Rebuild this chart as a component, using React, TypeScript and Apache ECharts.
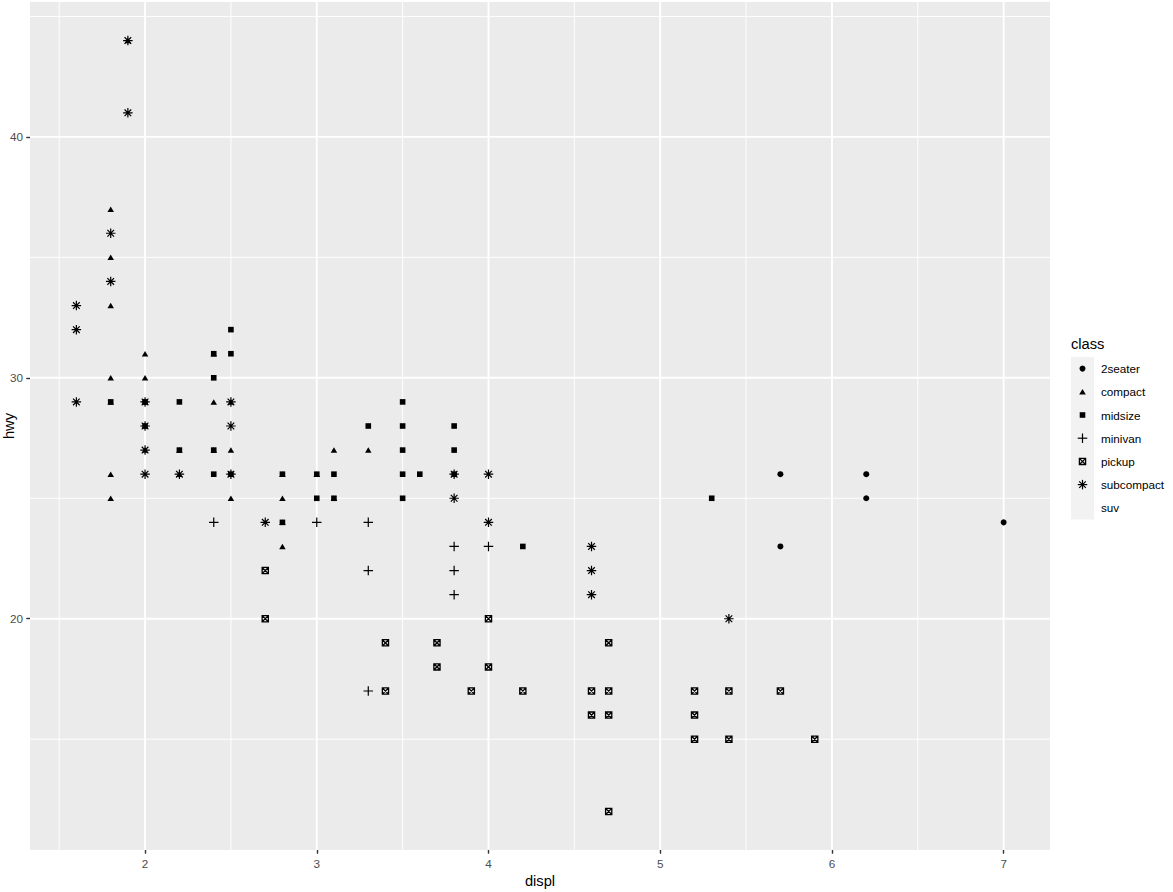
import React, { useEffect, useRef } from "react";
import * as echarts from "echarts";

// ---- data (mpg: displ vs hwy, shape = class; suv has no shape) ----
const classNames = ["2seater", "compact", "midsize", "minivan", "pickup", "subcompact", "suv"];

const twoSeater = [[5.7, 26], [5.7, 23], [6.2, 26], [6.2, 25], [7.0, 24]];
const compact = [
  [1.8, 25], [1.8, 26], [1.8, 29], [1.8, 30], [1.8, 33], [1.8, 35], [1.8, 37], [1.9, 44],
  [2.0, 27], [2.0, 28], [2.0, 29], [2.0, 30], [2.0, 31], [2.2, 26], [2.2, 27], [2.4, 27],
  [2.4, 29], [2.4, 31], [2.5, 25], [2.5, 27], [2.5, 29], [2.8, 23], [2.8, 24], [2.8, 25],
  [2.8, 26], [3.0, 26], [3.1, 25], [3.1, 27], [3.3, 27],
];
const midsize = [
  [1.8, 29], [2.0, 28], [2.0, 29], [2.2, 27], [2.2, 29], [2.4, 26], [2.4, 27], [2.4, 30],
  [2.4, 31], [2.5, 26], [2.5, 31], [2.5, 32], [2.8, 24], [2.8, 26], [3.0, 25], [3.0, 26],
  [3.1, 25], [3.1, 26], [3.3, 28], [3.5, 25], [3.5, 26], [3.5, 27], [3.5, 28], [3.5, 29],
  [3.6, 26], [3.8, 26], [3.8, 27], [3.8, 28], [4.2, 23], [5.3, 25],
];
const minivan = [
  [2.4, 24], [3.0, 24], [3.3, 17], [3.3, 22], [3.3, 24], [3.8, 21], [3.8, 22], [3.8, 23], [4.0, 23],
];
const pickup = [
  [2.7, 22], [2.7, 20], [3.4, 19], [3.4, 17], [3.7, 19], [3.7, 18], [3.9, 17], [4.0, 20],
  [4.0, 18], [4.2, 17], [4.6, 17], [4.6, 16], [4.7, 19], [4.7, 17], [4.7, 16], [4.7, 12],
  [5.2, 17], [5.2, 16], [5.2, 15], [5.4, 17], [5.4, 15], [5.7, 17], [5.9, 15],
];
const subcompact = [
  [1.6, 29], [1.6, 32], [1.6, 33], [1.8, 34], [1.8, 36], [1.9, 41], [1.9, 44], [2.0, 26],
  [2.0, 27], [2.0, 28], [2.0, 29], [2.2, 26], [2.5, 26], [2.5, 28], [2.5, 29], [2.7, 24],
  [3.8, 25], [3.8, 26], [4.0, 24], [4.0, 26], [4.6, 21], [4.6, 22], [4.6, 23], [5.4, 20],
];
const suv: number[][] = [];

const xTicks = [2, 3, 4, 5, 6, 7];
const xMinor = [1.5, 2.5, 3.5, 4.5, 5.5, 6.5];
const yTicks = [20, 30, 40];
const yMinor = [15, 25, 35, 45];
const xRange = [1.33, 7.27];
const yRange = [10.4, 45.6];

// ---- styling ----
const FONT = "'Liberation Sans', Arial, sans-serif";
const PLUS = "path://M0,5L10,5M5,0L5,10";
const BOXX = "path://M0,0L10,0L10,10L0,10ZM0,0L10,10M10,0L0,10";
const STAR = "path://M0,5L10,5M5,0L5,10M1.5,1.5L8.5,8.5M8.5,1.5L1.5,8.5";

const shapeDefs: Record<string, any> = {
  "2seater": { symbol: "circle", symbolSize: 6, itemStyle: { color: "#000", opacity: 1 } },
  compact: { symbol: "triangle", symbolSize: [6.5, 5.5], itemStyle: { color: "#000", opacity: 1 } },
  midsize: { symbol: "rect", symbolSize: 5.6, itemStyle: { color: "#000", opacity: 1 } },
  minivan: { symbol: PLUS, symbolSize: 9.5, itemStyle: { color: "rgba(0,0,0,0)", borderColor: "#000", borderWidth: 1.2, opacity: 1 } },
  pickup: { symbol: BOXX, symbolSize: 6.2, itemStyle: { color: "rgba(0,0,0,0)", borderColor: "#000", borderWidth: 1.3, opacity: 1 } },
  subcompact: { symbol: STAR, symbolSize: 9.5, itemStyle: { color: "rgba(0,0,0,0)", borderColor: "#000", borderWidth: 1.2, opacity: 1 } },
  suv: { symbol: "none", symbolSize: 0, itemStyle: { color: "#000" } },
};

const seriesData: Record<string, number[][]> = {
  "2seater": twoSeater, compact, midsize, minivan, pickup, subcompact, suv,
};

function legendSymbol(name: string, cx: number, cy: number): any[] {
  const st = { stroke: "#000", lineWidth: 1.2, fill: "none" };
  switch (name) {
    case "2seater":
      return [{ type: "circle", shape: { cx, cy, r: 3 }, style: { fill: "#000" } }];
    case "compact":
      return [{ type: "polygon", shape: { points: [[cx, cy - 2.8], [cx + 3.3, cy + 2.7], [cx - 3.3, cy + 2.7]] }, style: { fill: "#000" } }];
    case "midsize":
      return [{ type: "rect", shape: { x: cx - 2.8, y: cy - 2.8, width: 5.6, height: 5.6 }, style: { fill: "#000" } }];
    case "minivan":
      return [
        { type: "line", shape: { x1: cx - 4.75, y1: cy, x2: cx + 4.75, y2: cy }, style: st },
        { type: "line", shape: { x1: cx, y1: cy - 4.75, x2: cx, y2: cy + 4.75 }, style: st },
      ];
    case "pickup":
      return [
        { type: "rect", shape: { x: cx - 3.1, y: cy - 3.1, width: 6.2, height: 6.2 }, style: { ...st, lineWidth: 1.3 } },
        { type: "line", shape: { x1: cx - 3.1, y1: cy - 3.1, x2: cx + 3.1, y2: cy + 3.1 }, style: st },
        { type: "line", shape: { x1: cx + 3.1, y1: cy - 3.1, x2: cx - 3.1, y2: cy + 3.1 }, style: st },
      ];
    case "subcompact":
      return [
        { type: "line", shape: { x1: cx - 4.75, y1: cy, x2: cx + 4.75, y2: cy }, style: st },
        { type: "line", shape: { x1: cx, y1: cy - 4.75, x2: cx, y2: cy + 4.75 }, style: st },
        { type: "line", shape: { x1: cx - 3.3, y1: cy - 3.3, x2: cx + 3.3, y2: cy + 3.3 }, style: st },
        { type: "line", shape: { x1: cx + 3.3, y1: cy - 3.3, x2: cx - 3.3, y2: cy + 3.3 }, style: st },
      ];
    default:
      return [];
  }
}

export default function App() {
  const ref = useRef<HTMLDivElement>(null);

  useEffect(() => {
    if (!ref.current) return;
    const chart = echarts.init(ref.current, undefined, { renderer: "svg" });

    const gridV = [
      ...xTicks.map((v) => [v, 28, 1]),
      ...xMinor.map((v) => [v, 28, 0]),
    ];
    const gridH = [
      ...yTicks.map((v) => [4, v, 1]),
      ...yMinor.map((v) => [4, v, 0]),
    ];

    const gridSeries = (data: number[][], vertical: boolean) => ({
      type: "custom",
      coordinateSystem: "cartesian2d",
      silent: true,
      z: 1,
      dimensions: ["x", "y", "m"],
      encode: { x: 0, y: 1 },
      data,
      renderItem: (params: any, api: any) => {
        const cs = params.coordSys;
        const p = api.coord([api.value(0), api.value(1)]);
        const major = api.value(2) === 1;
        const shape = vertical
          ? { x1: p[0], y1: cs.y, x2: p[0], y2: cs.y + cs.height }
          : { x1: cs.x, y1: p[1], x2: cs.x + cs.width, y2: p[1] };
        return { type: "line", shape, style: { stroke: "#FFFFFF", lineWidth: major ? 1.9 : 0.95 } };
      },
    });

    const scatterSeries = classNames.map((name) => ({
      name,
      type: "scatter",
      z: 3,
      data: seriesData[name],
      ...shapeDefs[name],
      emphasis: { disabled: true },
    }));

    // legend via graphic
    const legendTop = 357;
    const keyH = 23.2;
    const keyX = 1071;
    const legendEls: any[] = [
      {
        type: "text",
        left: keyX,
        top: 336,
        style: { text: "class", font: `14.7px ${FONT}`, fill: "#000" },
      },
      {
        type: "rect",
        shape: { x: keyX, y: legendTop, width: 23, height: keyH * classNames.length },
        style: { fill: "#F2F2F2" },
      },
    ];
    classNames.forEach((name, i) => {
      const cy = legendTop + keyH * i + keyH / 2;
      legendEls.push(...legendSymbol(name, keyX + 11.5, cy));
      legendEls.push({
        type: "text",
        x: 1101,
        y: cy,
        style: { text: name, font: `11.7px ${FONT}`, fill: "#000", verticalAlign: "middle", align: "left" },
      });
    });

    chart.setOption({
      animation: false,
      backgroundColor: "#FFFFFF",
      textStyle: { fontFamily: FONT },
      grid: {
        left: 30,
        right: 123,
        top: 2,
        bottom: 42,
        show: true,
        backgroundColor: "#EBEBEB",
        borderWidth: 0,
        containLabel: false,
        outerBoundsMode: "none",
      },
      xAxis: {
        type: "value",
        min: xRange[0],
        max: xRange[1],
        name: "displ",
        nameLocation: "middle",
        nameGap: 23,
        nameMoveOverlap: false,
        nameTextStyle: { color: "#000", fontSize: 14.7, fontFamily: FONT },
        axisLine: { show: false },
        splitLine: { show: false },
        axisTick: { show: true, customValues: xTicks, length: 3.7, lineStyle: { color: "#333333", width: 1.4 } },
        axisLabel: { customValues: xTicks, color: "#4D4D4D", fontSize: 11.7, margin: 7, fontFamily: FONT },
      },
      yAxis: {
        type: "value",
        min: yRange[0],
        max: yRange[1],
        name: "hwy",
        nameLocation: "middle",
        nameRotate: 90,
        nameGap: 14,
        nameMoveOverlap: false,
        nameTextStyle: { color: "#000", fontSize: 14.7, fontFamily: FONT },
        axisLine: { show: false },
        splitLine: { show: false },
        axisTick: { show: true, customValues: yTicks, length: 3.7, lineStyle: { color: "#333333", width: 1.4 } },
        axisLabel: { customValues: yTicks, color: "#4D4D4D", fontSize: 11.7, margin: 7, fontFamily: FONT },
      },
      series: [gridSeries(gridV, true), gridSeries(gridH, false), ...scatterSeries],
      graphic: legendEls,
    });

    return () => chart.dispose();
  }, []);

  return (
    <div
      ref={ref}
      style={{ position: "absolute", left: 0, top: 0, width: 1173, height: 892 }}
    />
  );
}
